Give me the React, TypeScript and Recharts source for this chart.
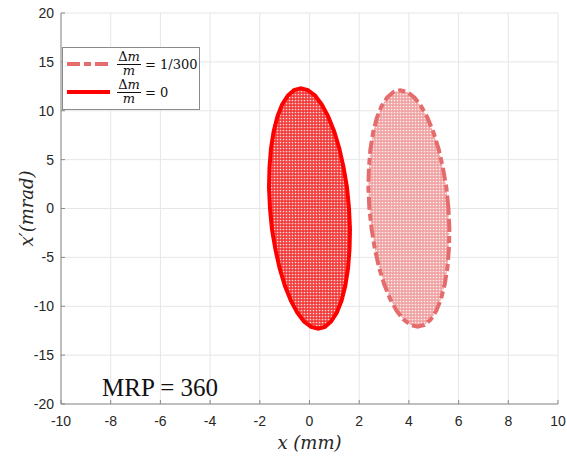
import React from 'react';
import { ScatterChart, Scatter, XAxis, YAxis, CartesianGrid, Curve, Label } from 'recharts';

// axis ticks
const xTicks = [-10, -8, -6, -4, -2, 0, 2, 4, 6, 8, 10];
const yTicks = [-20, -15, -10, -5, 0, 5, 10, 15, 20];

// beam boundary, Δm/m = 0
const zeroX = [1.59, 1.51, 1.37, 1.2, 0.99, 0.75, 0.49, 0.22, -0.07, -0.35, -0.62, -0.87, -1.1, -1.29, -1.44, -1.55, -1.61, -1.63,
  -1.59, -1.51, -1.37, -1.2, -0.99, -0.75, -0.49, -0.22, 0.07, 0.35, 0.62, 0.87, 1.1, 1.29, 1.44, 1.55, 1.61, 1.63];
const zeroY = [0, 2.14, 4.21, 6.15, 7.91, 9.42, 10.65, 11.56, 12.11, 12.3, 12.11, 11.56, 10.65, 9.42, 7.91, 6.15, 4.21, 2.14,
  0, -2.14, -4.21, -6.15, -7.91, -9.42, -10.65, -11.56, -12.11, -12.3, -12.11, -11.56, -10.65, -9.42, -7.91, -6.15, -4.21, -2.14];

// beam boundary, Δm/m = 1/300
const offX = [5.59, 5.51, 5.37, 5.2, 4.99, 4.75, 4.49, 4.22, 3.93, 3.65, 3.38, 3.13, 2.9, 2.71, 2.56, 2.45, 2.39, 2.37,
  2.41, 2.5, 2.63, 2.8, 3.01, 3.25, 3.51, 3.79, 4.07, 4.35, 4.62, 4.87, 5.1, 5.29, 5.44, 5.55, 5.61, 5.63];
const offY = [0, 2.1, 4.14, 6.05, 7.78, 9.27, 10.48, 11.37, 11.92, 12.1, 11.92, 11.37, 10.48, 9.27, 7.78, 6.05, 4.14, 2.1,
  0, -2.1, -4.14, -6.05, -7.78, -9.27, -10.48, -11.37, -11.92, -12.1, -11.92, -11.37, -10.48, -9.27, -7.78, -6.05, -4.14, -2.1];

const zeroData = zeroX.map((x, i) => ({ x, y: zeroY[i] }));
const offData = offX.map((x, i) => ({ x, y: offY[i] }));

const RED = '#ff0000';
const PINK = '#e46c6c';
const DASHDOT = '13 4 7 4';
const tickStyle = { fontSize: 14, fill: '#262626', fontFamily: 'Liberation Sans, Arial, sans-serif' };
const serifItalic = 'DejaVu Serif, serif';

const Frac = ({ rhs }: { rhs: string }) => (
  <div
    style={{
      display: 'flex', alignItems: 'center', fontFamily: 'DejaVu Serif, serif', fontSize: 13, color: '#111',
      whiteSpace: 'nowrap',
    }}
  >
    <div style={{ display: 'flex', flexDirection: 'column', alignItems: 'center', lineHeight: '12px' }}>
      <span>Δ<i>m</i></span>
      <span style={{ borderTop: '1px solid #111', width: 24, textAlign: 'center', marginTop: 1 }}><i>m</i></span>
    </div>
    <span style={{ marginLeft: 4 }}>{rhs}</span>
  </div>
);

const LegendBox = () => (
  <div
    style={{
      position: 'absolute', left: 62, top: 47, width: 138, height: 63,
      border: '1px solid #8a8a8a', background: '#fff', boxSizing: 'border-box',
    }}
  >
    {[
      { dash: DASHDOT, color: PINK, rhs: '= 1/300', top: 2 },
      { dash: undefined, color: RED, rhs: '= 0', top: 30 },
    ].map((r, i) => (
      <div
        key={i}
        style={{ position: 'absolute', left: 4, top: r.top, width: 132, height: 28, display: 'flex', alignItems: 'center' }}
      >
        <svg width={43} height={8} style={{ marginRight: 7, flex: 'none' }}>
          <line x1={0} y1={4} x2={43} y2={4} stroke={r.color} strokeWidth={4} strokeDasharray={r.dash} />
        </svg>
        <Frac rhs={r.rhs} />
      </div>
    ))}
  </div>
);

export default function App() {
  return (
    <div style={{ position: 'relative', width: 567, height: 459, background: '#fff' }}>
      <style>{'body{margin:0}'}</style>
      <ScatterChart width={567} height={459} margin={{ top: 13, right: 9, bottom: 0, left: 0 }}>
        <defs>
          <pattern id="dotsRed" patternUnits="userSpaceOnUse" width={3} height={3}>
            <rect width={3} height={3} fill="#f23c3c" />
            <circle cx={1.5} cy={1.5} r={0.85} fill="#ffd8d8" />
          </pattern>
          <pattern id="dotsPink" patternUnits="userSpaceOnUse" width={3} height={3}>
            <rect width={3} height={3} fill="#f0a2a2" />
            <circle cx={1.5} cy={1.5} r={0.85} fill="#fff2f2" />
          </pattern>
        </defs>
        <CartesianGrid stroke="#e6e6e6" strokeWidth={1} />
        <XAxis
          type="number" dataKey="x" domain={[-10, 10]} ticks={xTicks} height={55}
          tick={tickStyle} tickSize={-4} tickMargin={16}
          stroke="#8a8a8a" allowDataOverflow
        >
          <Label
            value="x (mm)" position="insideBottom" offset={10}
            style={{ fontSize: 18, fontStyle: 'italic', fontFamily: serifItalic, fill: '#262626' }}
          />
        </XAxis>
        <XAxis
          xAxisId="top" orientation="top" type="number" domain={[-10, 10]} ticks={xTicks} height={0}
          tickSize={-4} tickFormatter={() => ''} stroke="#8a8a8a"
        />
        <YAxis
          type="number" dataKey="y" domain={[-20, 20]} ticks={yTicks} width={61}
          tick={tickStyle} tickSize={-4} tickMargin={11}
          stroke="#8a8a8a" allowDataOverflow
        >
          <Label
            content={(p: any) => {
              const vb = p.viewBox;
              const cx = vb.x + 26;
              const cy = vb.y + vb.height / 2;
              return (
                <text
                  x={cx} y={cy} transform={`rotate(-90 ${cx} ${cy})`} textAnchor="middle" dominantBaseline="central"
                  style={{ fontSize: 18, fontStyle: 'italic', fontFamily: serifItalic, fill: '#262626' }}
                >
                  x′(mrad)
                </text>
              );
            }}
          />
        </YAxis>
        <YAxis
          yAxisId="right" orientation="right" type="number" domain={[-20, 20]} ticks={yTicks} width={0}
          tickSize={-4} tickFormatter={() => ''} stroke="#8a8a8a"
        />
        <Scatter
          data={offData} isAnimationActive={false} shape={() => <g />}
          line={(p: any) => (
            <Curve points={p.points} type="linearClosed" fill="url(#dotsPink)" stroke={PINK} strokeWidth={4} strokeDasharray={DASHDOT} />
          )}
        />
        <Scatter
          data={zeroData} isAnimationActive={false} shape={() => <g />}
          line={(p: any) => (
            <Curve points={p.points} type="linearClosed" fill="url(#dotsRed)" stroke={RED} strokeWidth={4} />
          )}
        />
      </ScatterChart>
      <div
        style={{
          position: 'absolute', left: 102, top: 373, fontFamily: 'Liberation Serif, serif', fontSize: 25, color: '#111',
          lineHeight: '30px',
        }}
      >
        MRP = 360
      </div>
      <LegendBox />
    </div>
  );
}
